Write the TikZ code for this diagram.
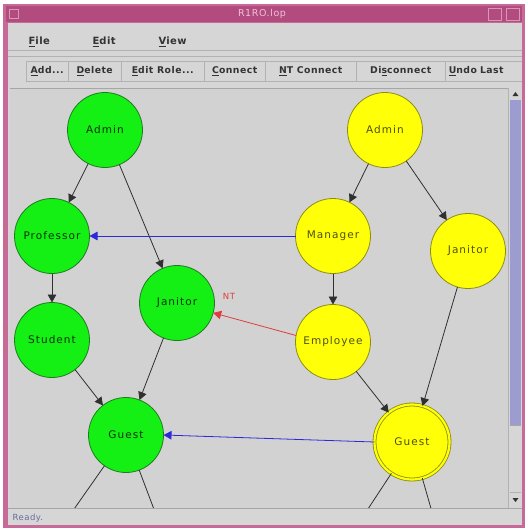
\documentclass[tikz,border=0pt]{standalone}
\usepackage{fontspec}
\setmainfont{DejaVu Sans}
\newfontfamily\uifont[LetterSpace=10]{DejaVu Sans}
\newfontfamily\titlefont[LetterSpace=6]{DejaVu Sans}
\newfontfamily\uibold[LetterSpace=5]{DejaVu Sans Bold}
\usetikzlibrary{arrows.meta}
\definecolor{winbg}{HTML}{D6D6D6}
\definecolor{canvasbg}{HTML}{D2D2D2}
\definecolor{pinkframe}{HTML}{C86A98}
\definecolor{titlebar}{HTML}{B24C7E}
\definecolor{titletext}{HTML}{F0C0D8}
\definecolor{gfill}{HTML}{14F014}
\definecolor{gline}{HTML}{1E7A1E}
\definecolor{yfill}{HTML}{FFFF08}
\definecolor{yline}{HTML}{8C8C14}
\definecolor{ytext}{HTML}{505010}
\definecolor{gtext}{HTML}{0C300C}
\definecolor{bluearr}{HTML}{2A2AD8}
\definecolor{redarr}{HTML}{E03C3C}
\definecolor{thumb}{HTML}{9C9CD0}
\definecolor{edgec}{HTML}{303030}
\definecolor{statusc}{HTML}{6A6AA0}
\tikzset{
  gnode/.style={circle, minimum size=75pt, inner sep=0pt, outer sep=0pt, fill=gfill, draw=gline, line width=0.8pt, font=\uifont\fontsize{10.5}{12}\selectfont, text=gtext},
  ynode/.style={circle, minimum size=75pt, inner sep=0pt, outer sep=0pt, fill=yfill, draw=yline, line width=0.8pt, font=\uifont\fontsize{10.5}{12}\selectfont, text=ytext},
  ydouble/.style={ynode, double=yfill, double distance=2.2pt, line width=0.8pt},
  arr/.style={draw=edgec, line width=0.8pt, -{Triangle[width=8.5pt,length=8pt]}},
  plainedge/.style={draw=edgec, line width=0.8pt},
  bluea/.style={draw=bluearr, line width=0.8pt, -{Triangle[width=8.5pt,length=8pt]}},
  reda/.style={draw=redarr, line width=0.8pt, -{Triangle[width=8.5pt,length=8pt]}},
  btn/.style={draw=gray!60, fill=winbg, minimum height=20pt, inner sep=1pt, anchor=west, font=\uibold\fontsize{9.3}{10}\selectfont, text=black!80},
  menu/.style={font=\uibold\fontsize{10}{11}\selectfont, text=black!80, anchor=west},
}
\begin{document}
\begin{tikzpicture}[x=1pt,y=-1pt]
\useasboundingbox (0,0) rectangle (528,531);
\fill[white] (0,0) rectangle (528,531);
% window frame
\fill[pinkframe] (3,4) rectangle (525,528);
\fill[titlebar] (6,6) rectangle (522,22);
\fill[winbg] (8,23) rectangle (522,525);
\node[font=\titlefont\fontsize{9.5}{10}\selectfont, text=titletext] (title) at (262,14) {R1RO.lop};
\draw[pinkframe!70!white, line width=0.4pt] (9,9) rectangle (18,18);
\draw[pinkframe!70!white, line width=0.4pt] (488,8) rectangle (501,20);
\draw[pinkframe!70!white, line width=0.4pt] (506,8) rectangle (519,20);
% menu bar
\draw[gray!60] (8,50) -- (522,50);
\node[menu] (mfile) at (25,42) {\underline{F}ile};
\node[menu] (medit) at (89,42) {\underline{E}dit};
\node[menu] (mview) at (155,42) {\underline{V}iew};
\draw[gray!60] (8,56) -- (522,56);
% toolbar
\node[btn, minimum width=42pt] (badd) at (26,71) {\underline{A}dd...};
\node[btn, minimum width=53pt] (bdel) at (68,71) {\underline{D}elete};
\node[btn, minimum width=83pt] (bedit) at (121,71) {\underline{E}dit Role...};
\node[btn, minimum width=61pt] (bconn) at (204,71) {\underline{C}onnect};
\node[btn, minimum width=91pt] (bnt) at (265,71) {\underline{N}T Connect};
\node[btn, minimum width=89pt] (bdis) at (356,71) {Di\underline{s}connect};
\node[btn, minimum width=77pt, text width=73pt, align=left] (bundo) at (445,71) {\,\underline{U}ndo Last};
\fill[pinkframe] (522,23) rectangle (525,525);
% canvas
\fill[canvasbg] (10,88) rectangle (508,508);
\draw[gray!70, line width=0.6pt] (10,88) -- (508,88);
% scrollbar
\fill[winbg] (508,88) rectangle (522,508);
\draw[gray!60] (508,88) -- (508,508);
\fill[thumb] (510,100) rectangle (521,425);
\draw[gray!70] (510,425) -- (521,425);
\fill[black!80] (512.5,96) -- (518.5,96) -- (515.5,92) -- cycle;
\fill[black!80] (512.5,498) -- (518.5,498) -- (515.5,502) -- cycle;
\draw[gray!60] (510,492) -- (521,492);
% status
\draw[gray!70, line width=0.6pt] (8,508) -- (522,508);
\node[anchor=west, font=\titlefont\fontsize{8.5}{10}\selectfont, text=statusc] (status) at (9,518) {Ready.};

\begin{scope}
\clip (10,89) rectangle (507,507.5);
\coordinate (gl1) at (72,512);
\coordinate (gl2) at (155,512);
\coordinate (yl1) at (366,512);
\coordinate (yl2) at (432,512);
% green nodes
\node[gnode] (gadmin) at (105,130) {Admin};
\node[gnode] (gprof) at (52,236) {Professor};
\node[gnode] (gjan) at (177,303) {Janitor};
\node[gnode] (gstud) at (52,340) {Student};
\node[gnode] (gguest) at (126,435) {Guest};
% yellow nodes
\node[ynode] (yadmin) at (385,130) {Admin};
\node[ynode] (yman) at (333,236) {Manager};
\node[ynode] (yjan) at (468,251) {Janitor};
\node[ynode] (yemp) at (333,342) {Employee};
\node[ydouble] (yguest) at (412,442) {Guest};
% green edges
\draw[arr] (gadmin) -- (gprof);
\draw[arr] (gadmin) -- (gjan);
\draw[arr] (gprof) -- (gstud);
\draw[arr] (gstud) -- (gguest);
\draw[arr] (gjan) -- (gguest);
\draw[plainedge] (gguest) -- (gl1);
\draw[plainedge] (gguest) -- (gl2);
% yellow edges
\draw[arr] (yadmin) -- (yman);
\draw[arr] (yadmin) -- (yjan);
\draw[arr] (yman) -- (yemp);
\draw[arr] (yemp) -- (yguest);
\draw[arr] (yjan) -- (yguest);
\draw[plainedge] (yguest) -- (yl1);
\draw[plainedge] (yguest) -- (yl2);
% cross edges
\draw[bluea] (yman.west) -- (gprof.east);
\draw[bluea] (yguest.west) -- (gguest.east);
\draw[reda] (yemp.170) -- (gjan);
\node[text=redarr, font=\titlefont\fontsize{8.5}{9}\selectfont] (ntlab) at (229,296) {NT};
\end{scope}
\end{tikzpicture}
\end{document}
